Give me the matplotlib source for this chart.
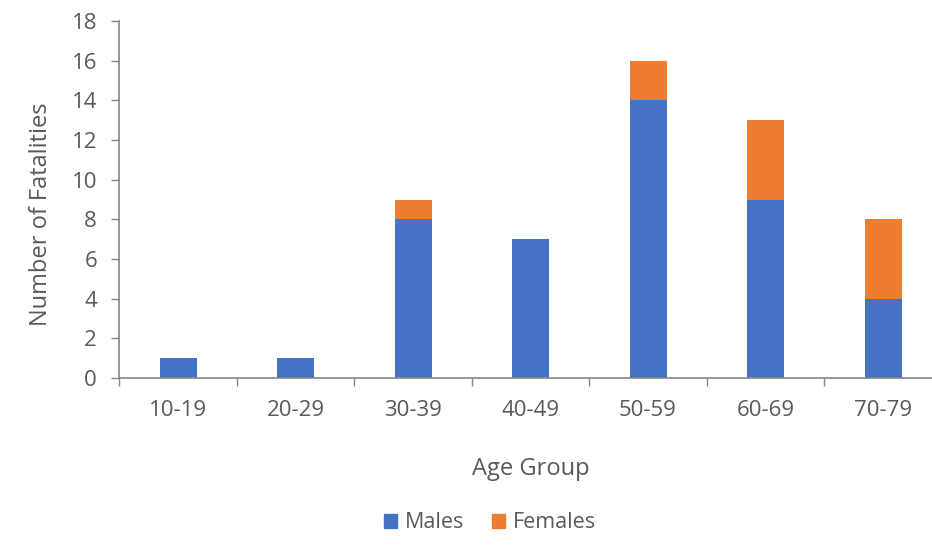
import numpy as np
import matplotlib.pyplot as plt
from matplotlib.patches import Patch

plt.rcParams['font.family'] = ['Open Sans', 'DejaVu Sans']

age_groups = ["10-19", "20-29", "30-39", "40-49", "50-59", "60-69", "70-79"]
males = [1, 1, 8, 7, 14, 9, 4]
females = [0, 0, 1, 0, 2, 4, 4]

blue = "#4472C4"
orange = "#ED7D31"
text_col = "#595959"
axis_col = "#868686"

fig = plt.figure(figsize=(9.32, 5.59), dpi=100)
ax = fig.add_axes([0.128, 0.3238, 0.8825, 0.6386])

x = np.arange(len(age_groups))
ax.bar(x, males, width=0.315, color=blue, label="Males")
ax.bar(x, females, width=0.315, bottom=males, color=orange, label="Females")

ax.set_xlim(-0.5, len(age_groups) - 0.5)
ax.set_ylim(0, 18)
ax.set_yticks(range(0, 19, 2))
ax.set_xticks(x)
ax.set_xticklabels(age_groups)
ax.set_xticks(np.arange(-0.5, len(age_groups), 1), minor=True)
ax.tick_params(axis="x", which="major", length=0, pad=16, labelsize=16, labelcolor=text_col)
ax.tick_params(axis="x", which="minor", length=6, color=axis_col, width=1)
ax.tick_params(axis="y", length=6, color=axis_col, width=1, labelsize=16,
               labelcolor=text_col, pad=10)

for s in ["top", "right"]:
    ax.spines[s].set_visible(False)
for s in ["left", "bottom"]:
    ax.spines[s].set_color(axis_col)
    ax.spines[s].set_linewidth(1.2)

ax.set_xlabel("Age Group", fontsize=17, color=text_col, labelpad=26)
ax.set_ylabel("Number of Fatalities", fontsize=17, color=text_col)
ax.yaxis.set_label_coords(-0.08, 0.46)

handles = [Patch(color=blue, label="Males"), Patch(color=orange, label="Females")]
fig.legend(handles=handles, loc="center", bbox_to_anchor=(490 / 932, 1 - 523 / 559),
           ncol=2, frameon=False, fontsize=15.5, labelcolor=text_col,
           handlelength=0.6, handleheight=0.6, handletextpad=0.35, columnspacing=1.3)

fig.savefig("out.png", dpi=100)
